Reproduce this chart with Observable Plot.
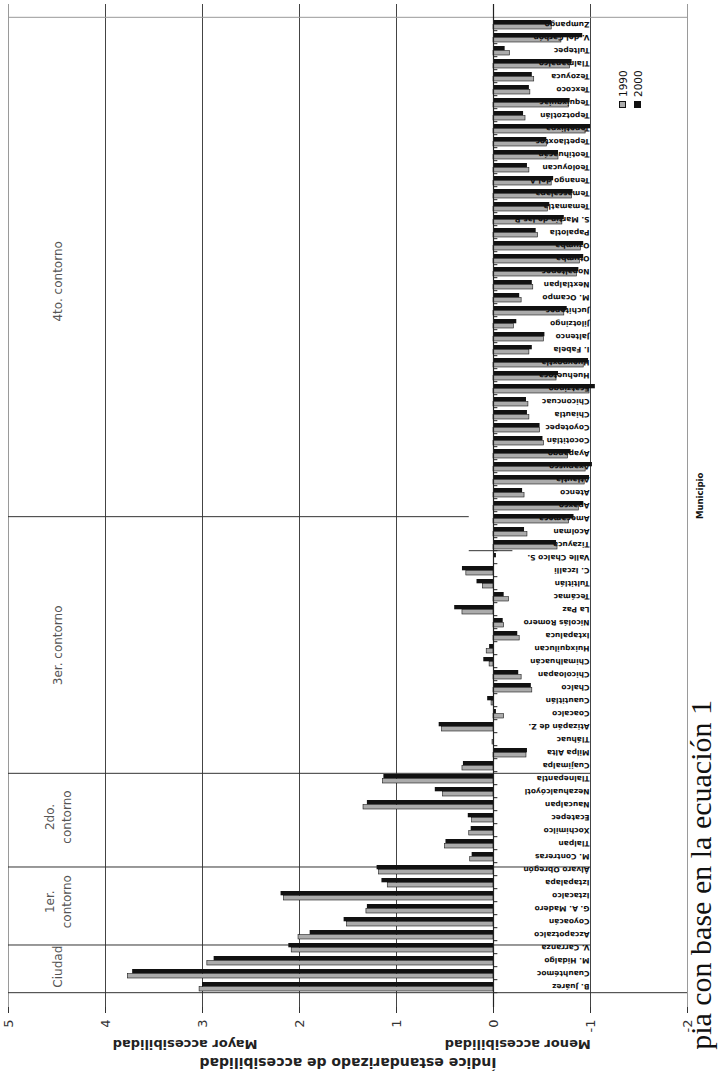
<!DOCTYPE html>
<html><head><meta charset="utf-8">
<script src="https://cdn.jsdelivr.net/npm/d3@7"></script>
<script src="https://cdn.jsdelivr.net/npm/@observablehq/plot@0.6"></script>
<style>
html,body{margin:0;padding:0;background:#fff;overflow:hidden;width:718px;height:1074px;}
#rot{position:absolute;left:0;top:0;width:1074px;height:718px;transform-origin:0 0;transform:translate(0px,1074px) rotate(-90deg);background:#fff;overflow:hidden;}
#chart{position:absolute;left:0;top:0;}
#legend{position:absolute;left:966px;top:615px;font:10.5px "DejaVu Sans";color:#111;}
#legend .row{display:flex;align-items:center;height:15px;}
#legend .sw{width:7px;height:7px;margin-right:4px;box-sizing:border-box;border:1px solid #111;}
#xlabel{position:absolute;left:555px;top:695px;font:bold 8.5px "DejaVu Sans";line-height:11px;color:#111;white-space:nowrap;}
#caption{position:absolute;right:700px;top:691px;height:20px;font:30px "Liberation Serif";line-height:20px;color:#111;white-space:nowrap;}
</style></head>
<body>
<div id="rot"><div id="chart"></div><div id="legend"></div><div id="xlabel">Municipio</div><div id="caption">pia con base en la ecuación 1</div></div>
<script>
const municipios = ["B. Juárez","Cuauhtémoc","M. Hidalgo","V. Carranza",
"Azcapotzalco","Coyoacán","G. A. Madero","Iztacalco","Iztapalapa","Álvaro Obregón",
"M. Contreras","Tlalpan","Xochimilco","Ecatepec","Naucalpan","Nezahualcóyotl","Tlalnepantla",
"Cuajimalpa","Milpa Alta","Tláhuac","Atizapán de Z.","Coacalco","Cuautitlán","Chalco","Chicoloapan","Chimalhuacán","Huixquilucan","Ixtapaluca","Nicolás Romero","La Paz","Tecámac","Tultitlán","C. Izcalli","Valle Chalco S.",
"Tizayuca","Acolman","Amecameca","Apaxco","Atenco","Atlautla","Axapusco","Ayapango","Cocotitlán","Coyotepec","Chiautla","Chiconcuac","Ecatzingo","Huehuetoca","Hueypoxtla","I. Fabela","Jaltenco","Jilotzingo","Juchitepec","M. Ocampo","Nextlalpan","Nopaltepec","Otumba","Ozumba","Papalotla","S. Martín de las P.","Temamatla","Temascalapa","Tenango del A.","Teoloyucan","Teotihuacán","Tepetlaoxtoc","Tepetlixpa","Tepotzotlán","Tequixquiac","Texcoco","Tezoyuca","Tlalmanalco","Tultepec","V. del Carbón","Zumpango"];
const indice1990 = [3.03,3.77,2.95,2.08,
2.01,1.51,1.31,2.16,1.09,1.18,
0.24,0.50,0.25,0.22,1.34,0.52,1.14,
0.32,-0.34,0.01,0.53,-0.11,0.02,-0.40,-0.29,0.04,0.07,-0.27,-0.11,0.32,-0.16,0.11,0.28,null,
-0.66,-0.35,-0.78,-0.88,-0.32,-0.94,-0.95,-0.77,-0.52,-0.48,-0.37,-0.36,-0.99,-0.65,-0.93,-0.37,-0.52,-0.21,-0.73,-0.29,-0.41,-0.86,-0.89,-0.90,-0.46,-0.71,-0.56,-0.81,-0.60,-0.37,-0.67,-0.55,-0.95,-0.33,-0.78,-0.38,-0.42,-0.79,-0.17,-0.70,-0.60];
const indice2000 = [3.00,3.72,2.88,2.11,
1.89,1.54,1.30,2.19,1.15,1.20,
0.22,0.49,0.23,0.26,1.30,0.60,1.13,
0.31,-0.35,-0.01,0.56,-0.03,0.06,-0.39,-0.26,0.10,0.04,-0.25,-0.10,0.40,-0.11,0.17,0.32,-0.03,
-0.65,-0.32,-0.83,-0.93,-0.30,-0.99,-1.02,-0.80,-0.51,-0.48,-0.35,-0.34,-1.05,-0.67,-0.98,-0.40,-0.53,-0.24,-0.76,-0.27,-0.40,-0.88,-0.93,-0.93,-0.44,-0.73,-0.58,-0.82,-0.62,-0.35,-0.67,-0.55,-1.00,-0.31,-0.79,-0.37,-0.40,-0.81,-0.12,-0.92,-0.60];
const series = ["1990","2000"];
const valoresEje = [5,4,3,2,1,0,-1,-2];
const regiones = ["Ciudad","1er.\ncontorno","2do.\ncontorno","3er. contorno","4to. contorno"];
const centroRegion = [2, 7, 13.5, 26.7, 54.7];
const notasEje = ["Mayor accesibilidad","Menor accesibilidad"];
const posNotas = [3.18,-0.25];
const tituloEje = "Índice estandarizado de accesibilidad";

const W = 1074, H = 697, mL = 67, mR = 4, mT = 8, mB = 10;
const n = municipios.length;
const bw = (W - mL - mR) / n;
const datos = municipios.map((m, i) => ({m, v1990: indice1990[i], v2000: indice2000[i]}));
const bandAt = p => { const k = Math.max(0, Math.min(n - 1, Math.floor(p))); return {cat: municipios[k], dx: (p - k - 0.5) * bw}; };
const FONT = "DejaVu Sans";

const marks = [];
marks.push(Plot.ruleY([4,3,2,1,-1], {stroke: "#444", strokeWidth: 1}));
marks.push(Plot.ruleY([5,-2], {stroke: "#9a9a9a", strokeWidth: 1}));
marks.push(Plot.ruleX([municipios[n-1]], {dx: bw/2, y1: -2, y2: 5, stroke: "#9a9a9a"}));
// separators between regions
const seps = [{p: 3.65, y1: 5, y2: -1}, {p: 9.65, y1: 5, y2: -1}, {p: 16.85, y1: 5, y2: -1}, {p: 36.6, y1: 5, y2: 0.25}, {p: 34, y1: 0.25, y2: -0.2}];
for (const s of seps) {
  const b = bandAt(s.p);
  marks.push(Plot.ruleX([b.cat], {dx: b.dx, y1: s.y1, y2: s.y2, stroke: "#333", strokeWidth: 1}));
}
// bars
marks.push(Plot.barY(datos.filter(d => d.v1990 != null), {x: "m", y1: 0, y2: "v1990", fill: "#ababab", stroke: "#1a1a1a", strokeWidth: 0.6, insetLeft: 2, insetRight: bw - 6.7}));
marks.push(Plot.barY(datos, {x: "m", y1: 0, y2: "v2000", fill: "#111", insetLeft: 6.7, insetRight: 2}));
// zero line and category ticks
marks.push(Plot.ruleY([0], {stroke: "#222", strokeWidth: 1.2}));
marks.push(Plot.ruleX(municipios, {x: d => d, dx: -bw/2, y1: 0, y2: -0.045, stroke: "#222"}));
// category labels
marks.push(Plot.text(municipios, {x: d => d, y: -0.99, text: d => d, rotate: -90, textAnchor: "start", fontSize: 7.5, fontWeight: "bold", fill: "#111", fontFamily: FONT}));
// value axis
marks.push(Plot.ruleX([municipios[0]], {dx: -bw/2, y1: -2, y2: 5, stroke: "#333"}));
marks.push(Plot.axisY(valoresEje, {anchor: "left", tickSize: 6, tickPadding: 7, fontSize: 13, fill: "#333", stroke: "#333", tickFormat: d => String(d), label: null}));
marks.push(Plot.text([tituloEje], {frameAnchor: "left", dx: -56, rotate: -90, textAnchor: "middle", fontSize: 14, fontWeight: "bold", fill: "#222", fontFamily: FONT}));
marks.push(Plot.text(notasEje, {y: (d, i) => posNotas[i], text: d => d, frameAnchor: "left", dx: -38, rotate: -90, textAnchor: "middle", fontSize: 13, fontWeight: "bold", fill: "#222", fontFamily: FONT}));
// region labels
regiones.forEach((r, i) => {
  const b = bandAt(centroRegion[i]);
  marks.push(Plot.text([r], {x: () => b.cat, y: 4.5, dx: b.dx, text: d => d, fontSize: 12, lineHeight: 1.4, fill: "#555", fontFamily: FONT}));
});

const chart = Plot.plot({
  width: W, height: H, marginLeft: mL, marginRight: mR, marginTop: mT, marginBottom: mB,
  style: {fontFamily: FONT, background: "transparent", overflow: "visible"},
  x: {type: "band", domain: municipios, padding: 0, axis: null},
  y: {domain: [-2, 5]},
  marks
});
document.getElementById("chart").appendChild(chart);

const colores = {"1990": "#ababab", "2000": "#111"};
const leg = document.getElementById("legend");
for (const s of series) {
  const row = document.createElement("div"); row.className = "row";
  const sw = document.createElement("span"); sw.className = "sw"; sw.style.background = colores[s];
  const tx = document.createElement("span"); tx.textContent = s;
  row.appendChild(sw); row.appendChild(tx); leg.appendChild(row);
}
</script>
</body></html>
